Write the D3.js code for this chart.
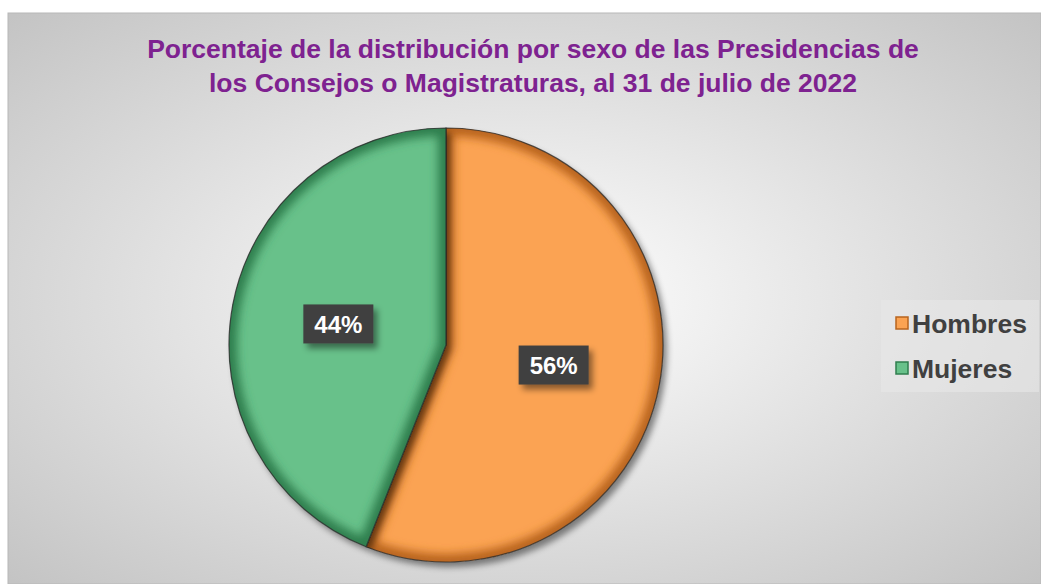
<!DOCTYPE html>
<meta charset="UTF-8">
<style>
body { margin: 0; background: #fff; }
text { font-family: "Liberation Sans", Arial, sans-serif; }
</style>
<body>
<script src="https://d3js.org/d3.v7.min.js"></script>
<script>

var categories = ["Hombres", "Mujeres"];
var values = [56, 44];
var colors = ["#FBA352", "#68C18A"];
var edgeColors = ["#B8641E", "#2F7E4E"];
var titleLines = ["Porcentaje de la distribución por sexo de las Presidencias de",
                  "los Consejos o Magistraturas, al 31 de julio de 2022"];

var width = 1041, height = 584;
var cx = 446, cy = 345, r = 217;

var svg = d3.select("body").append("svg")
    .attr("width", width)
    .attr("height", height);

var defs = svg.append("defs");

// background gradient
var bg = defs.append("radialGradient").attr("id", "bg")
    .attr("cx", "50%").attr("cy", "50%").attr("r", "70%");
bg.append("stop").attr("offset", "0%").attr("stop-color", "#ffffff");
bg.append("stop").attr("offset", "100%").attr("stop-color", "#c4c4c4");

var blur = defs.append("filter").attr("id", "soft")
    .attr("x", "-20%").attr("y", "-20%").attr("width", "140%").attr("height", "140%");
blur.append("feGaussianBlur").attr("stdDeviation", 5);

var shadow = defs.append("filter").attr("id", "shadow")
    .attr("x", "-30%").attr("y", "-30%").attr("width", "160%").attr("height", "160%");
shadow.append("feDropShadow").attr("dx", 4).attr("dy", 5)
    .attr("stdDeviation", 3).attr("flood-color", "#000").attr("flood-opacity", 0.45);

// chart area
svg.append("rect")
    .attr("x", 8).attr("y", 13)
    .attr("width", width - 8).attr("height", height - 13)
    .attr("fill", "url(#bg)")
    .attr("stroke", "#b8b8b8").attr("stroke-width", 1);

// title
svg.append("g").selectAll("text")
  .data(titleLines)
  .join("text")
    .attr("x", 533)
    .attr("y", function(d, i) { return 58 + i * 34; })
    .attr("text-anchor", "middle")
    .attr("fill", "#7E2290")
    .attr("font-weight", "bold")
    .attr("font-size", 26.5)
    .text(function(d) { return d; });

// pie
var pie = d3.pie().sort(null).value(function(d) { return d; });
var arcs = pie(values);
var arc = d3.arc().innerRadius(0).outerRadius(r);

var g = svg.append("g").attr("transform", "translate(" + cx + "," + cy + ")");

arcs.forEach(function(d, i) {
  defs.append("clipPath").attr("id", "clip" + i)
    .append("path").attr("d", arc(d));
});

var slice = g.selectAll("g.slice")
  .data(arcs)
  .join("g")
    .attr("class", "slice");

slice.append("path")
    .attr("d", arc)
    .attr("fill", function(d, i) { return colors[i]; })
    .attr("filter", "url(#shadow)");

// bevel: blurred dark stroke clipped inside the slice
slice.append("g")
    .attr("clip-path", function(d, i) { return "url(#clip" + i + ")"; })
  .append("path")
    .attr("d", arc)
    .attr("fill", "none")
    .attr("stroke", function(d, i) { return edgeColors[i]; })
    .attr("stroke-width", 16)
    .attr("filter", "url(#soft)");

slice.append("path")
    .attr("d", arc)
    .attr("fill", "none")
    .attr("stroke", "#2a2a2a")
    .attr("stroke-width", 1.2)
    .attr("stroke-opacity", 0.8);

// labels
var labelArc = d3.arc().innerRadius(r * 0.505).outerRadius(r * 0.505);
var lab = svg.append("g").selectAll("g.lab")
  .data(arcs)
  .join("g")
    .attr("class", "lab")
    .attr("transform", function(d) {
      var c = labelArc.centroid(d);
      return "translate(" + (cx + c[0]) + "," + (cy + c[1]) + ")";
    });

lab.append("rect")
    .attr("x", -35).attr("y", -20)
    .attr("width", 70).attr("height", 39)
    .attr("fill", "#3f3f3f")
    .attr("filter", "url(#shadow)");

lab.append("text")
    .attr("text-anchor", "middle")
    .attr("dy", "0.36em")
    .attr("fill", "#ffffff")
    .attr("font-weight", "bold")
    .attr("font-size", 24)
    .text(function(d) { return d.data + "%"; });

// legend
var legend = svg.append("g");
legend.append("rect")
    .attr("x", 881).attr("y", 300)
    .attr("width", 158).attr("height", 92)
    .attr("fill", "#e8e8e8").attr("fill-opacity", 0.6);

var item = legend.selectAll("g.item")
  .data(categories)
  .join("g")
    .attr("class", "item")
    .attr("transform", function(d, i) { return "translate(896," + (323 + i * 45) + ")"; });

item.append("rect")
    .attr("x", 0).attr("y", -6)
    .attr("width", 12).attr("height", 12)
    .attr("fill", function(d, i) { return colors[i]; })
    .attr("stroke", function(d, i) { return edgeColors[i]; })
    .attr("stroke-width", 1.5);

item.append("text")
    .attr("x", 16)
    .attr("dy", "0.36em")
    .attr("fill", "#404040")
    .attr("font-weight", "bold")
    .attr("font-size", 26.5)
    .text(function(d) { return d; });

</script>
</body>
